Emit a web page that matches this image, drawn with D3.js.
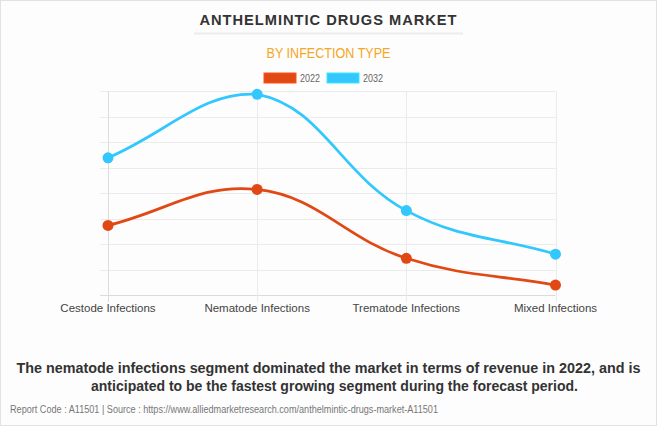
<!DOCTYPE html>
<html><head><meta charset="utf-8">
<script src="https://cdn.jsdelivr.net/npm/d3@7"></script>
<style>
html,body{margin:0;padding:0;background:#fff;}
svg{display:block;}
</style></head>
<body>
<svg id="chart" width="657" height="426"></svg>
<script>
const categories = ["Cestode Infections", "Nematode Infections", "Trematode Infections", "Mixed Infections"];
const seriesNames = ["2022", "2032"];
const values2022 = [2.73, 4.14, 1.44, 0.39];
const values2032 = [5.38, 7.87, 3.31, 1.60];
const yTicks = [0, 1, 2, 3, 4, 5, 6, 7, 8];
const colors = ["#e04814", "#33c8fd"];

const svg = d3.select("#chart");
const W = 657, H = 426;
svg.append("rect").attr("x", 0.5).attr("y", 0.5).attr("width", W - 1).attr("height", H - 1)
  .attr("fill", "#fdfdfd").attr("stroke", "#e2e2e2");

// Title
svg.append("text").attr("x", 328.5).attr("y", 25).attr("text-anchor", "middle")
  .attr("font-family", "Liberation Sans, Arial, sans-serif").attr("font-weight", "bold")
  .attr("font-size", 15).attr("letter-spacing", 1).attr("fill", "#333")
  .attr("textLength", 258).attr("lengthAdjust", "spacingAndGlyphs")
  .text("ANTHELMINTIC DRUGS MARKET");
svg.append("line").attr("x1", 194).attr("x2", 463).attr("y1", 33.5).attr("y2", 33.5)
  .attr("stroke", "#ececec").attr("stroke-width", 2);

// Subtitle
svg.append("text").attr("x", 328.5).attr("y", 58).attr("text-anchor", "middle")
  .attr("font-family", "Liberation Sans, Arial, sans-serif")
  .attr("font-size", 15).attr("fill", "#f5a623")
  .attr("textLength", 124).attr("lengthAdjust", "spacingAndGlyphs")
  .text("BY INFECTION TYPE");

// Legend
const legendX = [264, 327];
seriesNames.forEach((n, i) => {
  svg.append("rect").attr("x", legendX[i]).attr("y", 73).attr("width", 32).attr("height", 10)
    .attr("fill", colors[i]).attr("stroke", d3.color(colors[i]).brighter(0.4)).attr("stroke-width", 1);
  svg.append("text").attr("x", legendX[i] + 36).attr("y", 82)
    .attr("font-family", "Liberation Sans, Arial, sans-serif").attr("font-size", 11)
    .attr("fill", "#666").attr("textLength", 20).attr("lengthAdjust", "spacingAndGlyphs").text(n);
});

// Scales
const x = d3.scalePoint().domain(categories).range([108, 555.5]);
const y = d3.scaleLinear().domain([0, 8]).range([295, 91]);

const grid = svg.append("g");
grid.selectAll("line.h").data(yTicks).join("line")
  .attr("x1", 100).attr("x2", 555.5)
  .attr("y1", d => Math.round(y(d)) + 0.5).attr("y2", d => Math.round(y(d)) + 0.5)
  .attr("stroke", d => d === 0 ? "#dcdcdc" : "#ebebeb").attr("stroke-width", 1);
grid.selectAll("line.v").data(categories).join("line")
  .attr("x1", d => Math.round(x(d)) + 0.5).attr("x2", d => Math.round(x(d)) + 0.5)
  .attr("y1", 91).attr("y2", 302)
  .attr("stroke", (d, i) => i === 0 ? "#dcdcdc" : "#ebebeb").attr("stroke-width", 1);

// X labels
svg.append("g").selectAll("text").data(categories).join("text")
  .attr("x", d => x(d)).attr("y", 312).attr("text-anchor", "middle")
  .attr("font-family", "Liberation Sans, Arial, sans-serif").attr("font-size", 11.5)
  .attr("fill", "#444").text(d => d);

// Chart.js-style spline
function splinePath(pts, t, top) {
  const cps = pts.map((cur, i) => {
    const prev = pts[i - 1] || cur, next = pts[i + 1] || cur;
    const d01 = Math.hypot(cur[0] - prev[0], cur[1] - prev[1]);
    const d12 = Math.hypot(next[0] - cur[0], next[1] - cur[1]);
    let s01 = d01 / (d01 + d12), s12 = d12 / (d01 + d12);
    if (isNaN(s01)) s01 = 0; if (isNaN(s12)) s12 = 0;
    const fa = t * s01, fb = t * s12;
    return {
      p: [cur[0] - fa * (next[0] - prev[0]), Math.max(top, cur[1] - fa * (next[1] - prev[1]))],
      n: [cur[0] + fb * (next[0] - prev[0]), Math.max(top, cur[1] + fb * (next[1] - prev[1]))]
    };
  });
  const p = d3.path();
  p.moveTo(pts[0][0], pts[0][1]);
  for (let i = 1; i < pts.length; i++) {
    p.bezierCurveTo(cps[i - 1].n[0], cps[i - 1].n[1], cps[i].p[0], cps[i].p[1], pts[i][0], pts[i][1]);
  }
  return p.toString();
}

const series = [values2022, values2032];
series.forEach((vals, si) => {
  const pts = vals.map((v, i) => [x(categories[i]), y(v)]);
  svg.append("path").attr("d", splinePath(pts, 0.4, y(8))).attr("fill", "none")
    .attr("stroke", colors[si]).attr("stroke-width", 2.7);
  svg.append("g").selectAll("circle").data(pts).join("circle")
    .attr("cx", d => d[0]).attr("cy", d => d[1]).attr("r", 5.5).attr("fill", colors[si]);
});

// Caption
const cap = svg.append("text").attr("text-anchor", "middle")
  .attr("font-family", "Liberation Sans, Arial, sans-serif").attr("font-weight", "bold")
  .attr("font-size", 14).attr("fill", "#333");
cap.append("tspan").attr("x", 328.5).attr("y", 373)
  .attr("textLength", 624).attr("lengthAdjust", "spacingAndGlyphs")
  .text("The nematode infections segment dominated the market in terms of revenue in 2022, and is");
cap.append("tspan").attr("x", 334.5).attr("y", 391)
  .attr("textLength", 487).attr("lengthAdjust", "spacingAndGlyphs")
  .text("anticipated to be the fastest growing segment during the forecast period.");

svg.append("text").attr("x", 10).attr("y", 413)
  .attr("font-family", "Liberation Sans, Arial, sans-serif").attr("font-size", 10)
  .attr("fill", "#777").attr("textLength", 428).attr("lengthAdjust", "spacingAndGlyphs")
  .text("Report Code : A11501  |  Source : https://www.alliedmarketresearch.com/anthelmintic-drugs-market-A11501");
</script>
</body></html>
